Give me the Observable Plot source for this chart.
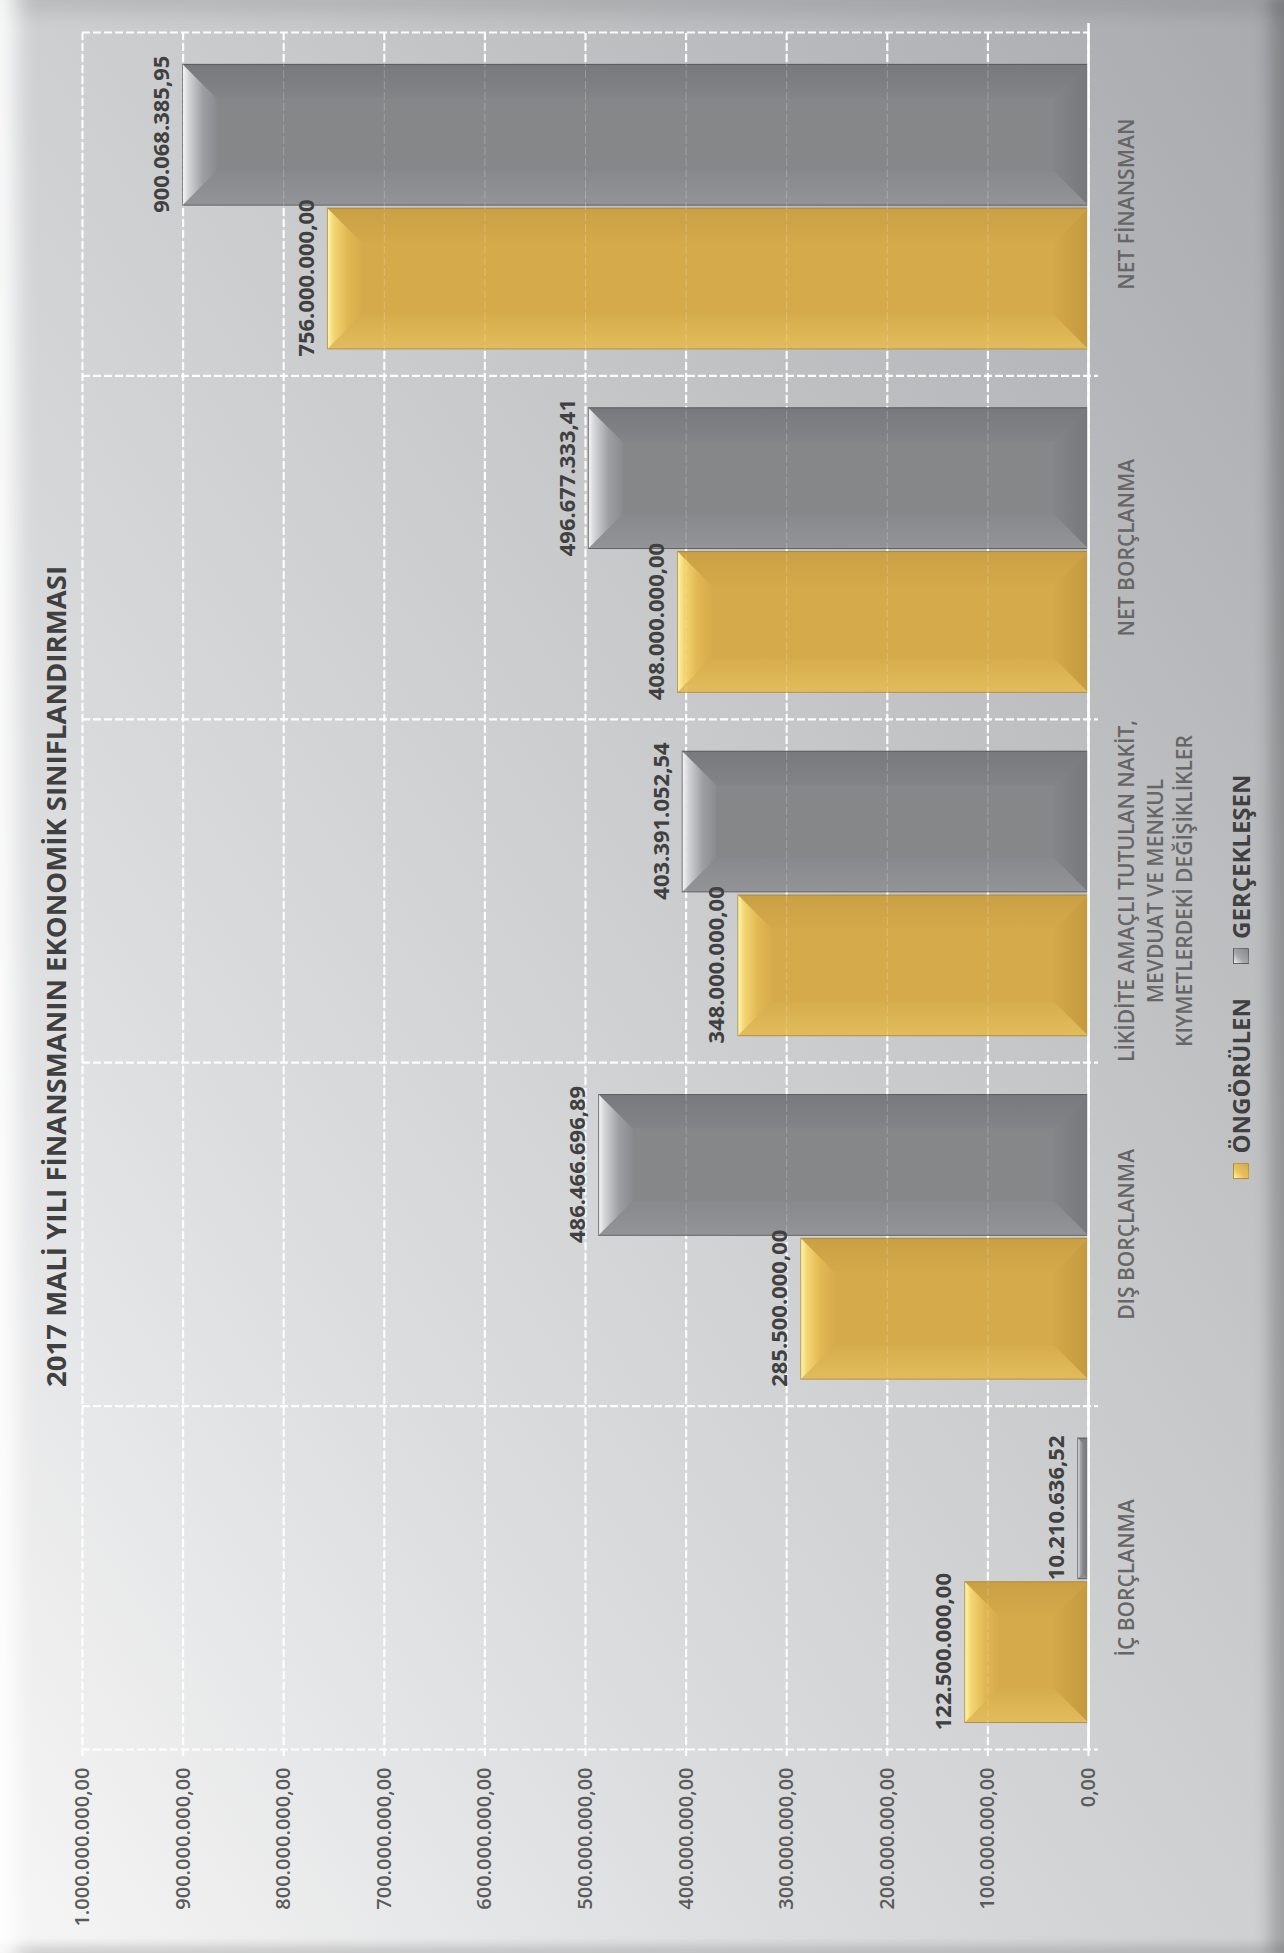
<!DOCTYPE html>
<html>
<head>
<meta charset="utf-8">
<script src="https://cdn.jsdelivr.net/npm/d3@7"></script>
<script src="https://cdn.jsdelivr.net/npm/@observablehq/plot@0.6"></script>
<style>
  html, body { margin: 0; padding: 0; width: 1284px; height: 1953px; overflow: hidden; background: #c8cacc; }
  #page {
    position: relative; width: 1284px; height: 1953px; overflow: hidden;
    background: linear-gradient(to top right, #f6f6f6 0%, #dcdddf 30%, #c5c7c9 62%, #a7a9ac 100%);
    box-shadow:
      inset 30px 0 22px -14px rgba(255,255,255,0.9),
      inset -24px 0 16px -10px rgba(0,0,0,0.22),
      inset 0 24px 18px -12px rgba(0,0,0,0.10),
      inset 0 -16px 10px -8px rgba(0,0,0,0.14);
  }
  #chart {
    position: absolute; left: 0; top: 0; width: 1953px; height: 1284px;
    transform-origin: 0 0; transform: translate(0, 1953px) rotate(-90deg);
    font-family: "Open Sans", sans-serif;
    display: flex; flex-direction: column;
  }
  #title {
    height: 70px; flex: none; box-sizing: border-box; padding-top: 41px;
    text-align: center; font-size: 27.6px; line-height: 28px; font-weight: 700; color: #404040;
    white-space: nowrap; overflow: visible;
  }
  #plot { height: 1148px; flex: none; }
  #plot svg { display: block; overflow: visible; }
  #legend {
    height: 66px; flex: none; box-sizing: border-box; padding-top: 11px;
    display: flex; justify-content: center; align-items: flex-start; gap: 34px;
    font-size: 24px; line-height: 24px; font-weight: 700; color: #404040;
  }
  #legend .item { display: inline-flex; align-items: center; gap: 9px; height: 24px; }
  #legend .sw { width: 14px; height: 14px; display: inline-block; }
</style>
</head>
<body>
<div id="page">
  <div id="chart">
    <div id="title">2017 MALİ YILI FİNANSMANIN EKONOMİK SINIFLANDIRMASI</div>
    <div id="plot"></div>
    <div id="legend"></div>
  </div>
</div>
<script>
// ---- data ----
const categories = [
  "İÇ BORÇLANMA",
  "DIŞ BORÇLANMA",
  "LİKİDİTE AMAÇLI TUTULAN NAKİT,\nMEVDUAT VE MENKUL\nKIYMETLERDEKİ DEĞİŞİKLİKLER",
  "NET BORÇLANMA",
  "NET FİNANSMAN"
];
const seriesNames = ["ÖNGÖRÜLEN", "GERÇEKLEŞEN"];
const ongorulen = [122500000.00, 285500000.00, 348000000.00, 408000000.00, 756000000.00];
const gerceklesen = [10210636.52, 486466696.89, 403391052.54, 496677333.41, 900068385.95];
const valueTicks = [0, 100000000, 200000000, 300000000, 400000000, 500000000,
                    600000000, 700000000, 800000000, 900000000, 1000000000];

const rowsO = categories.map((c, i) => ({category: c, series: seriesNames[0], value: ongorulen[i]}));
const rowsG = categories.map((c, i) => ({category: c, series: seriesNames[1], value: gerceklesen[i]}));
const rows = rowsO.concat(rowsG);

const fmt = d3.formatLocale({decimal: ",", thousands: ".", grouping: [3], currency: ["", ""]}).format(",.2f");

// ---- layout ----
const W = 1953, H = 1148;
const mL = 203, mR = 33, mT = 12, mB = 130;
const bw = (W - mL - mR) / categories.length;
const outer = bw * 0.08, barW = bw * 0.41, gap = 3;
const insetFor = {
  [seriesNames[0]]: [outer, bw - outer - barW],
  [seriesNames[1]]: [outer + barW + gap, bw - outer - 2 * barW - gap]
};
const dxFor = {
  [seriesNames[0]]: outer + barW / 2 - bw / 2,
  [seriesNames[1]]: outer + barW + gap + barW / 2 - bw / 2
};

const palette = {
  [seriesNames[0]]: {
    main: "#D4AA4B", stroke: "rgba(150,110,30,0.55)",
    top: ["#FFF7B0", "#F4D672", "#E0B752", "#D6AC4C"],
    bottom: ["#C49A3F", "#D2A849"],
    left: ["#E2BC5C", "#D6AD4D"],
    right: ["#C9A044", "#D3A94A"]
  },
  [seriesNames[1]]: {
    main: "#858789", stroke: "rgba(60,60,62,0.6)",
    top: ["#F6F6F7", "#D3D4D6", "#9C9EA1", "#898B8E"],
    bottom: ["#76787B", "#838588"],
    left: ["#929497", "#87898C"],
    right: ["#77797C", "#828487"]
  }
};

// bevel overlay drawn with the plot's own scales
function bevelMark(index, scales) {
  const ns = "http://www.w3.org/2000/svg";
  const x = scales.x, y = scales.y;
  const g = document.createElementNS(ns, "g");
  const defs = document.createElementNS(ns, "defs");
  g.appendChild(defs);
  const grad = (id, colors, x2, y2, rev) => {
    const lg = document.createElementNS(ns, "linearGradient");
    lg.setAttribute("id", id);
    lg.setAttribute("x1", rev && x2 ? 1 : 0); lg.setAttribute("y1", rev && y2 ? 1 : 0);
    lg.setAttribute("x2", rev && x2 ? 0 : x2); lg.setAttribute("y2", rev && y2 ? 0 : y2);
    colors.forEach((c, i) => {
      const s = document.createElementNS(ns, "stop");
      s.setAttribute("offset", colors.length === 4 ? [0, 0.18, 0.6, 1][i] : i / (colors.length - 1));
      s.setAttribute("stop-color", c);
      lg.appendChild(s);
    });
    defs.appendChild(lg);
  };
  seriesNames.forEach((s, k) => {
    const p = palette[s];
    grad(`bv-top-${k}`, p.top, 0, 1, false);
    grad(`bv-bot-${k}`, p.bottom, 0, 1, true);
    grad(`bv-left-${k}`, p.left, 1, 0, false);
    grad(`bv-right-${k}`, p.right, 1, 0, true);
  });
  const poly = (pts, fill) => {
    const e = document.createElementNS(ns, "polygon");
    e.setAttribute("points", pts.map(p => p.join(",")).join(" "));
    e.setAttribute("fill", fill);
    g.appendChild(e);
  };
  rows.forEach(r => {
    const k = seriesNames.indexOf(r.series);
    const xs = x(r.category);
    const [il, ir] = insetFor[r.series];
    const x0 = xs + il, x1 = xs + bw - ir;
    const yT = y(r.value), yB = y(0);
    const h = yB - yT, w = x1 - x0;
    const b = Math.min(34, h / 2, w / 2);
    poly([[x0, yB], [x1, yB], [x1 - b, yB - b], [x0 + b, yB - b]], `url(#bv-bot-${k})`);
    poly([[x0, yT], [x0 + b, yT + b], [x0 + b, yB - b], [x0, yB]], `url(#bv-left-${k})`);
    poly([[x1, yT], [x1 - b, yT + b], [x1 - b, yB - b], [x1, yB]], `url(#bv-right-${k})`);
    poly([[x0, yT], [x1, yT], [x1 - b, yT + b], [x0 + b, yT + b]], `url(#bv-top-${k})`);
    const rc = document.createElementNS(ns, "rect");
    rc.setAttribute("x", x0); rc.setAttribute("y", yT);
    rc.setAttribute("width", w); rc.setAttribute("height", h);
    rc.setAttribute("fill", "none"); rc.setAttribute("stroke", palette[r.series].stroke);
    rc.setAttribute("stroke-width", 1);
    g.appendChild(rc);
  });
  return g;
}

const gridStyle = {stroke: "#ffffff", strokeWidth: 2.2, strokeDasharray: "8,3", strokeOpacity: 0.95};

const plot = Plot.plot({
  width: W, height: H,
  marginLeft: mL, marginRight: mR, marginTop: mT, marginBottom: mB,
  style: {fontFamily: "Open Sans, sans-serif", fontSize: "20px", fontWeight: 600, color: "#5a5a5a", background: "transparent", overflow: "visible"},
  x: {domain: categories, padding: 0, round: false, axis: null},
  y: {domain: [0, 1000000000], ticks: valueTicks, tickFormat: fmt, tickSize: 0, tickPadding: 18, label: null, grid: false},
  marks: [
    Plot.ruleY(valueTicks, {y: d => d, ...gridStyle, insetLeft: -6}),
    Plot.ruleX(categories, {x: d => d, dx: -bw / 2, ...gridStyle, insetBottom: -10}),
    Plot.ruleX(categories.slice(-1), {x: d => d, dx: bw / 2, ...gridStyle}),
    Plot.barY(rowsO, {x: "category", y: "value", fill: palette[seriesNames[0]].main,
      insetLeft: insetFor[seriesNames[0]][0], insetRight: insetFor[seriesNames[0]][1]}),
    Plot.barY(rowsG, {x: "category", y: "value", fill: palette[seriesNames[1]].main,
      insetLeft: insetFor[seriesNames[1]][0], insetRight: insetFor[seriesNames[1]][1]}),
    bevelMark,
    Plot.ruleY(valueTicks, {y: d => d, stroke: "#ffffff", strokeOpacity: 0.22, strokeWidth: 1, strokeDasharray: "8,3"}),
    Plot.ruleY([0], {stroke: "#ffffff", strokeWidth: 2.6, insetRight: -10}),
    Plot.text(rowsO, {x: "category", y: "value", text: d => fmt(d.value), dx: dxFor[seriesNames[0]], dy: -14,
      lineAnchor: "bottom", fontSize: 22, fontWeight: 700, fill: "#404040"}),
    Plot.text(rowsG, {x: "category", y: "value", text: d => fmt(d.value), dx: dxFor[seriesNames[1]], dy: -14,
      lineAnchor: "bottom", fontSize: 22, fontWeight: 700, fill: "#404040"}),
    Plot.text(categories, {x: d => d, frameAnchor: "bottom", lineAnchor: "top", dy: 25,
      fontSize: 21, fontWeight: 600, fill: "#666666", lineHeight: 1.38})
  ]
});
document.getElementById("plot").appendChild(plot);

// legend
const legend = document.getElementById("legend");
const swatchBg = {
  [seriesNames[0]]: "linear-gradient(135deg, #fff3a0 0%, #e8c25e 40%, #d4aa4b 100%)",
  [seriesNames[1]]: "linear-gradient(135deg, #f0f0f0 0%, #a5a7aa 40%, #858789 100%)"
};
seriesNames.forEach(s => {
  const it = document.createElement("span");
  it.className = "item";
  const sw = document.createElement("span");
  sw.className = "sw";
  sw.style.background = swatchBg[s];
  sw.style.border = "1px solid " + palette[s].stroke;
  const t = document.createElement("span");
  t.textContent = s;
  it.appendChild(sw); it.appendChild(t);
  legend.appendChild(it);
});
</script>
</body>
</html>
